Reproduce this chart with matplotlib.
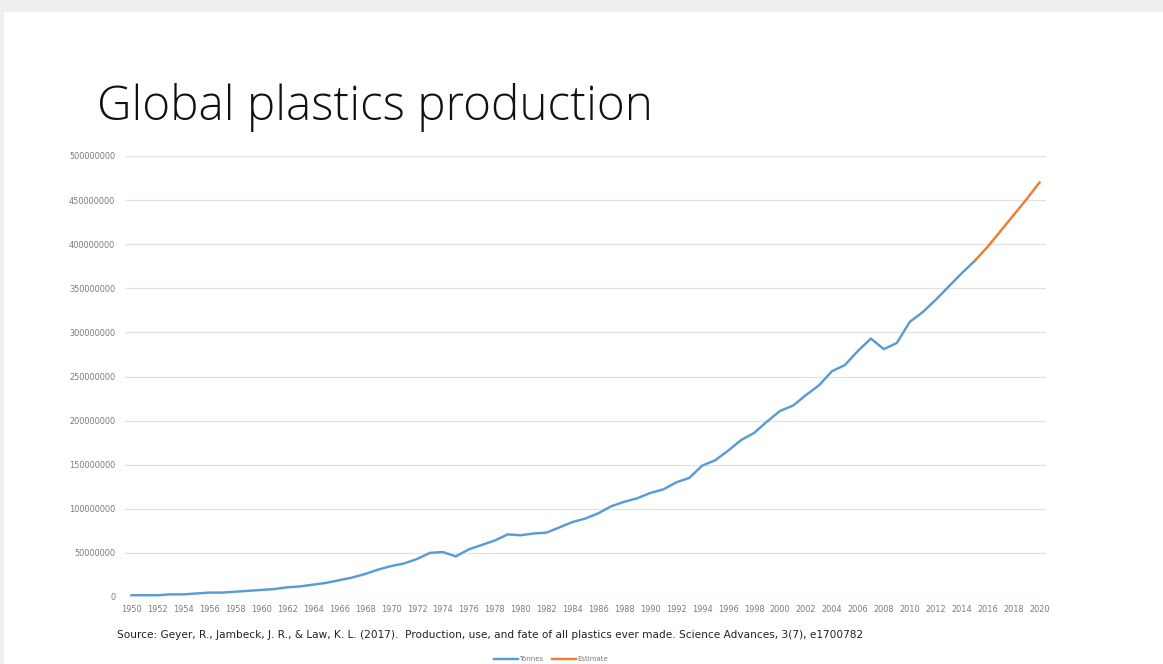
import numpy as np
import matplotlib.pyplot as plt
from matplotlib.patches import Rectangle
from matplotlib.ticker import MultipleLocator, FuncFormatter

# Annual global plastics production in tonnes (Geyer et al. 2017)
years = list(range(1950, 2016))
tonnes_mt = [2, 2, 2, 3, 3, 4, 5, 5, 6, 7,
             8, 9, 11, 12, 14, 16, 19, 22, 26, 31,
             35, 38, 43, 50, 51, 46, 54, 59, 64, 71,
             70, 72, 73, 79, 85, 89, 95, 103, 108, 112,
             118, 122, 130, 135, 149, 155, 166, 178, 186, 199,
             211, 217, 229, 240, 256, 263, 279, 293, 281, 288,
             312, 323, 337, 352, 367, 381]
est_years = list(range(2015, 2021))
estimate_mt = [381, 397, 415, 433, 451, 470]

tonnes = np.array(tonnes_mt) * 1e6
estimate = np.array(estimate_mt) * 1e6

W, H = 1163, 664
fig = plt.figure(figsize=(W / 100, H / 100), dpi=100)
fig.patch.set_facecolor('#efefef')

# slide page behind everything
fig.patches.append(Rectangle((4 / W, 0), 1, 1 - 12 / H, transform=fig.transFigure,
                             facecolor='white', edgecolor='none', zorder=-10))

left, right = 125 / W, 1046 / W
bottom, top = (H - 597) / H, (H - 156) / H
ax = fig.add_axes([left, bottom, right - left, top - bottom])
ax.patch.set_alpha(0)

blue = '#5B9BD5'
orange = '#ED7D31'
ax.plot(years, tonnes, color=blue, lw=1.75, solid_joinstyle='round', label='Tonnes', zorder=3)
ax.plot(est_years, estimate, color=orange, lw=1.75, solid_joinstyle='round', label='Estimate', zorder=3)

ax.set_xlim(1949.5, 2020.5)
ax.set_ylim(0, 500e6)
ax.yaxis.set_major_locator(MultipleLocator(50e6))
ax.set_xticks(range(1950, 2021, 2))
ax.yaxis.set_major_formatter(FuncFormatter(lambda v, p: f'{int(v)}'))
ax.grid(axis='y', color='#e2e2e2', lw=0.9)
ax.set_axisbelow(True)
for s in ax.spines.values():
    s.set_visible(False)
ax.tick_params(axis='both', length=0, labelsize=5.9, colors='#7a7a7a')
ax.tick_params(axis='y', pad=7)
ax.tick_params(axis='x', pad=6)

fig.text(97 / W, 1 - 108 / H, 'Global plastics production', fontsize=34.3,
         family='Open Sans', weight='light', color='#111111', va='center', ha='left')

fig.text(117 / W, 1 - 635 / H,
         'Source: Geyer, R., Jambeck, J. R., & Law, K. L. (2017).  Production, use, and fate of all plastics ever made. Science Advances, 3(7), e1700782',
         fontsize=7.6, color='#222222', va='center', ha='left')

leg = fig.legend(loc='center', bbox_to_anchor=(551 / W, 1 - 659 / H), ncol=2,
                 frameon=False, fontsize=5, handlelength=3.5, handletextpad=0.2,
                 columnspacing=1.2, labelcolor='#7a7a7a')

fig.savefig('out.png', dpi=100)
